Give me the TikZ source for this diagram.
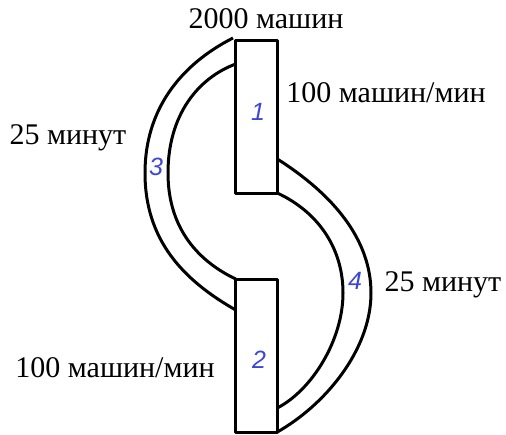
\documentclass[tikz,border=0pt]{standalone}
\usepackage{fontspec}
\setmainfont{Liberation Serif}
\newfontfamily\handfont{Liberation Sans}
\definecolor{numblue}{RGB}{60,70,215}
\begin{document}
\begin{tikzpicture}[x=1pt,y=-1pt,
  road/.style={line width=3pt,line join=round},
  lbl/.style={font=\fontsize{30}{32}\selectfont,inner sep=0pt},
  num/.style={font=\handfont\itshape\fontsize{25}{26}\selectfont,text=numblue,inner sep=0pt}]
\useasboundingbox (0,0) rectangle (506,434);
% rectangles (roads 1 and 2)
\draw[road] (235.7,40) rectangle (277.3,193);
\draw[road] (235.7,279) rectangle (277.3,432);
% road 3 (left arc)
\draw[road] (233,38) .. controls (180,65) and (145,110) .. (145,173)
  .. controls (145,240) and (183,280) .. (235.7,310);
\draw[road] (235.7,64) .. controls (198,78) and (168,115) .. (168,173)
  .. controls (168,230) and (200,262) .. (235.7,279);
% road 4 (right arc)
\draw[road] (277.3,159) .. controls (334,195) and (371,240) .. (371,293)
  .. controls (371,350) and (325,405) .. (277.3,432);
\draw[road] (277.3,193) .. controls (320,213) and (343,250) .. (343,293)
  .. controls (343,340) and (312,390) .. (277.3,408);
% labels
\node[lbl] (t1) at (266,19) {2000 машин};
\node[lbl] (t2) at (386,93) {100 машин/мин};
\node[lbl] (t3) at (68,138) {25 минут};
\node[lbl] (t4) at (443,285) {25 минут};
\node[lbl] (t5) at (115,368) {100 машин/мин};
\node[num] (n1) at (258,112) {1};
\node[num] (n3) at (156,167) {3};
\node[num] (n4) at (355,281) {4};
\node[num] (n2) at (259,360) {2};
\end{tikzpicture}
\end{document}
